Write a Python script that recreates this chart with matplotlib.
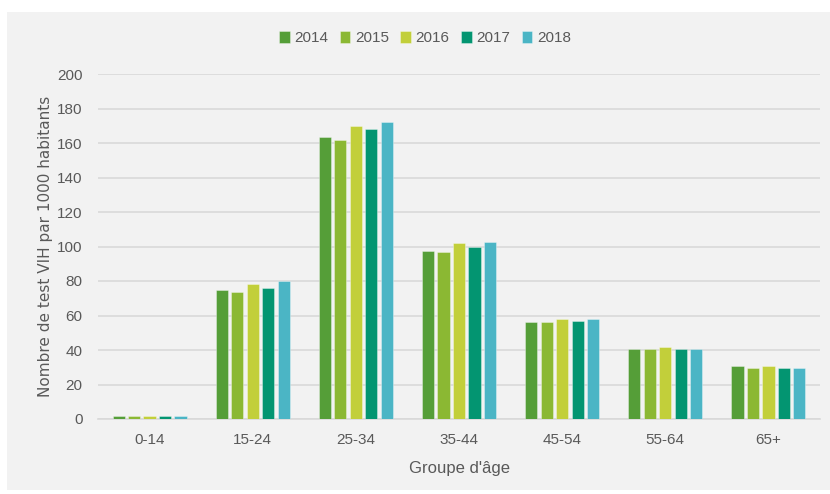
import matplotlib
matplotlib.use("Agg")
import matplotlib.pyplot as plt
import numpy as np
from matplotlib.patches import Rectangle

categories = ["0-14", "15-24", "25-34", "35-44", "45-54", "55-64", "65+"]
years = ["2014", "2015", "2016", "2017", "2018"]
v2014 = [1.6, 75, 163.5, 97.5, 56, 40.5, 31]
v2015 = [1.6, 73.5, 161.5, 97, 56, 40.5, 29.5]
v2016 = [1.6, 78, 170, 102, 58, 41.8, 31]
v2017 = [1.6, 76, 168, 100, 56.8, 40.5, 29.5]
v2018 = [1.6, 80, 172, 102.7, 58, 40.5, 29.5]
series = [v2014, v2015, v2016, v2017, v2018]
colors = ["#559e38", "#8bb833", "#c2cf3a", "#039571", "#4bb5c5"]
yticks = [0, 20, 40, 60, 80, 100, 120, 140, 160, 180, 200]

plt.rcParams['font.family'] = ['Liberation Sans', 'DejaVu Sans']
txt = "#595959"

fig = plt.figure(figsize=(8.3, 4.94), dpi=100)
fig.patch.set_facecolor("white")
bg = Rectangle((7/830, 4/494), 1 - 7/830, 1 - 4/494 - 12/494,
               transform=fig.transFigure, facecolor="#f2f2f2",
               edgecolor="none", zorder=-10)
fig.patches.append(bg)
ax = fig.add_axes([98/830, 1 - 419/494, (820 - 98)/830, (419 - 74)/494])
ax.set_zorder(1)
ax.patch.set_alpha(0)

x = np.arange(len(categories))
pitch = 0.15
width = 0.118
for i, (vals, c, yr) in enumerate(zip(series, colors, years)):
    ax.bar(x + (i - 2) * pitch, vals, width, color=c, label=yr,
           edgecolor=(1, 1, 1, 0.4), linewidth=0.6, zorder=3)

ax.set_ylim(0, 200)
ax.set_xlim(-0.5, len(categories) - 0.5)
ax.set_yticks(yticks)
ax.set_xticks(x)
ax.set_xticklabels(categories)
ax.yaxis.grid(True, color="#d9d9d9", linewidth=1.2, zorder=0)
ax.set_axisbelow(True)
ax.tick_params(axis="both", length=0, labelsize=11, colors=txt)
ax.tick_params(axis="y", pad=11)
ax.tick_params(axis="x", pad=10)
for s in ["top", "right", "left"]:
    ax.spines[s].set_visible(False)
ax.spines["bottom"].set_color("#d9d9d9")
ax.spines["bottom"].set_linewidth(1.2)

ax.set_xlabel("Groupe d'âge", fontsize=12, color=txt, labelpad=10)
ax.set_ylabel("Nombre de test VIH par 1000 habitants", fontsize=11, color=txt,
              family=['DejaVu Sans'], labelpad=3)

leg = fig.legend(loc="center", bbox_to_anchor=(425/830, 1 - 38/494), ncol=5,
                 frameon=False, fontsize=11, handlelength=0.7, handleheight=0.9,
                 handletextpad=0.3, columnspacing=0.75, labelcolor=txt)

fig.savefig("out.png", dpi=100, facecolor=fig.get_facecolor())
